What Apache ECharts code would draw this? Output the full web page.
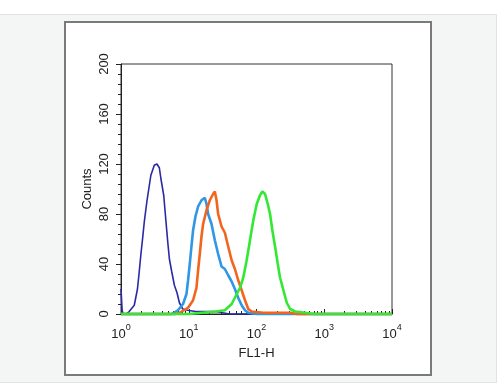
<!DOCTYPE html>
<html>
<head>
<meta charset="utf-8">
<script src="https://cdn.jsdelivr.net/npm/echarts@6/dist/echarts.min.js"></script>
<style>
html,body{margin:0;padding:0;background:#fff;}
#wrap{position:relative;width:500px;height:383px;overflow:hidden;}
#outer{position:absolute;left:0;top:14px;width:496px;height:367px;background:#f4f5f5;border:1px solid #e2e4e4;border-left:none;}
#inner{position:absolute;left:64px;top:21px;width:364px;height:351px;background:#fff;border:2px solid #7a7a7a;}
#chart{position:absolute;left:0;top:0;width:500px;height:383px;}
</style>
</head>
<body>
<div id="wrap">
<div id="outer"></div>
<div id="inner"></div>
<div id="chart"></div>
</div>
<script>
// FL1-H values (linear) and counts
const navyX = [1.0, 1.02, 1.04, 1.07, 1.2, 1.32, 1.57, 1.75, 1.86, 1.96, 2.08, 2.21, 2.41, 2.62, 2.76, 3.10, 3.39, 3.68, 3.89, 4.27, 4.61, 4.89, 5.18, 5.60, 6.14, 6.71, 7.28, 8.15, 9.66, 12.6, 17.8, 25.1, 31.6, 39.8, 10000];
const navyY = [20, 20, 3, 0, 0, 2, 7, 20, 34, 47, 60, 74, 90, 103, 111, 119, 120, 117, 108, 95, 74, 58, 44, 34, 23, 17, 9, 4, 3, 2, 2, 2, 1, 0, 0];

const blueX = [1, 5.62, 6.93, 8.24, 9.25, 9.77, 10.35, 10.96, 11.59, 12.56, 13.74, 15.42, 17.26, 18.28, 19.32, 21.68, 24.27, 27.16, 30.48, 34.12, 38.19, 42.95, 47.97, 53.70, 60.39, 67.61, 75.68, 100, 10000];
const blueY = [0, 0, 3, 8, 16, 27, 40, 54, 67, 78, 86, 91, 93, 88, 80, 72, 59, 48, 38, 36, 31, 26, 20, 13, 7, 3, 1, 0, 0];

const orangeX = [1, 6.31, 7.36, 9.77, 11.59, 13.00, 13.74, 14.55, 15.42, 16.29, 18.28, 20.46, 22.91, 24.27, 25.70, 27.16, 30.48, 34.12, 38.19, 42.95, 47.97, 53.70, 60.39, 67.61, 75.68, 84.92, 125.9, 199.5, 316.2, 398, 10000];
const orangeY = [0, 0, 1, 5, 11, 21, 35, 48, 62, 72, 83, 91, 96, 98, 91, 80, 70, 65, 54, 43, 36, 27, 19, 11, 4, 2, 1, 1, 1, 0, 0];

const greenX = [1, 10, 15.85, 25.12, 34.12, 42.95, 47.97, 57.02, 63.68, 71.61, 80.17, 89.74, 100.7, 112.7, 121.9, 133.7, 146.6, 158.5, 171.4, 187.9, 206.1, 222.8, 249.5, 279.9, 313.3, 371.5, 524.8, 707.9, 10000];
const greenY = [0, 0, 1, 2, 3, 8, 13, 21, 29, 43, 59, 75, 88, 95, 98, 96, 88, 80, 67, 54, 40, 29, 19, 9, 4, 2, 1, 0, 0];

const decadeTicks = [1, 10, 100, 1000, 10000];
const minorTicksX = [2,3,4,5,6,7,8,9,20,30,40,50,60,70,80,90,200,300,400,500,600,700,800,900,2000,3000,4000,5000,6000,7000,8000,9000];

function pairs(xs, ys) { return xs.map((x, i) => [x, ys[i]]); }

const chart = echarts.init(document.getElementById('chart'), null, {renderer: 'canvas'});
const font = 'Liberation Sans, Arial, sans-serif';
chart.setOption({
  animation: false,
  grid: {left: 121, right: 108, top: 64, bottom: 69, show: true, borderColor: '#333', borderWidth: 1, backgroundColor: 'transparent'},
  xAxis: [{
    type: 'log', logBase: 10, min: 1, max: 10000,
    name: 'FL1-H', nameLocation: 'middle', nameGap: 33, nameMoveOverlap: false,
    nameTextStyle: {fontFamily: font, fontSize: 13, color: '#222'},
    axisLine: {show: true, lineStyle: {color: '#222', width: 1}},
    axisTick: {show: true, inside: true, length: 5, customValues: decadeTicks, lineStyle: {color: '#222'}},
    axisLabel: {
      show: true, margin: 9, customValues: decadeTicks, color: '#222', fontFamily: font,
      formatter: function (v) { return '{b|10}{s|' + Math.round(Math.log10(v)) + '}'; },
      rich: {
        b: {fontSize: 13, fontFamily: font, color: '#222', lineHeight: 18, verticalAlign: 'bottom'},
        s: {fontSize: 9, fontFamily: font, color: '#222', lineHeight: 18, verticalAlign: 'top'}
      }
    },
    splitLine: {show: false}
  }, {
    type: 'log', logBase: 10, min: 1, max: 10000, position: 'bottom',
    axisLine: {show: false},
    axisTick: {show: true, inside: true, length: 3, customValues: minorTicksX, lineStyle: {color: '#222'}},
    axisLabel: {show: false},
    splitLine: {show: false}
  }],
  yAxis: {
    type: 'value', min: 0, max: 200, interval: 40,
    name: 'Counts', nameLocation: 'middle', nameGap: 27, nameRotate: 90, nameMoveOverlap: false,
    nameTextStyle: {fontFamily: font, fontSize: 13, color: '#222'},
    axisLine: {show: true, lineStyle: {color: '#222', width: 1}},
    axisTick: {show: true, length: 5, lineStyle: {color: '#222'}},
    minorTick: {show: true, splitNumber: 5, length: 3, lineStyle: {color: '#222'}},
    axisLabel: {rotate: 90, margin: 10, fontFamily: font, fontSize: 13, color: '#222'},
    splitLine: {show: false}
  },
  series: [
    {type: 'line', data: pairs(navyX, navyY), clip: false, showSymbol: false, lineStyle: {color: '#2a2aa6', width: 1.6}, itemStyle: {color: '#2a2aa6'}, z: 2},
    {type: 'line', data: pairs(blueX, blueY), clip: false, showSymbol: false, lineStyle: {color: '#3096e6', width: 2.6}, itemStyle: {color: '#3096e6'}, z: 3},
    {type: 'line', data: pairs(orangeX, orangeY), clip: false, showSymbol: false, lineStyle: {color: '#f2651e', width: 2.6}, itemStyle: {color: '#f2651e'}, z: 4},
    {type: 'line', data: pairs(greenX, greenY), clip: false, showSymbol: false, lineStyle: {color: '#33e833', width: 2.6}, itemStyle: {color: '#33e833'}, z: 5}
  ]
});
</script>
</body>
</html>
